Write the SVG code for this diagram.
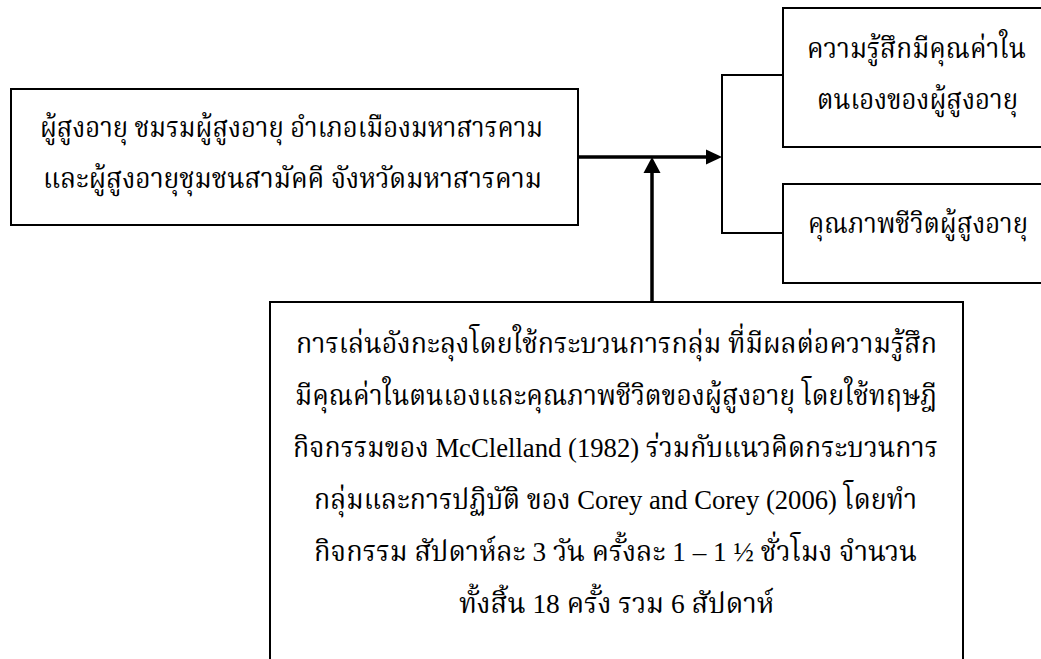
<svg xmlns="http://www.w3.org/2000/svg" width="1041" height="659" viewBox="0 0 1041 659">
<defs>
<style>
.box{fill:#fff;stroke:#000;stroke-width:2}
.t{font-family:"Liberation Serif","Noto Serif Thai","Noto Sans Thai",serif;font-size:28px;fill:#000}
.thick{stroke:#000;stroke-width:3.5;fill:none}
.thin{stroke:#000;stroke-width:2;fill:none}
</style>
</defs>
<rect width="1041" height="659" fill="#fff"/>
<g id="connectors">
<line class="thick" x1="579" y1="157" x2="708" y2="157"/>
<polygon points="706,149.5 722,157 706,164.5" fill="#000"/>
<line class="thick" x1="652" y1="302" x2="652" y2="171"/>
<polygon points="643.5,173 652,157 660.5,173" fill="#000"/>
<polyline class="thin" points="783,75 722,75 722,233 783,233"/>
</g>
<g id="node-elderly">
<rect class="box" x="11" y="89" width="567" height="136"/>
<text class="t" x="40" y="137" textLength="503" lengthAdjust="spacingAndGlyphs">ผู้สูงอายุ ชมรมผู้สูงอายุ อำเภอเมืองมหาสารคาม</text>
<text class="t" x="43" y="188" textLength="499" lengthAdjust="spacingAndGlyphs">และผู้สูงอายุชุมชนสามัคคี จังหวัดมหาสารคาม</text>
</g>
<g id="node-selfesteem">
<rect class="box" x="783" y="8" width="270" height="139"/>
<text class="t" x="807" y="58" textLength="219" lengthAdjust="spacingAndGlyphs">ความรู้สึกมีคุณค่าใน</text>
<text class="t" x="817" y="109" textLength="201" lengthAdjust="spacingAndGlyphs">ตนเองของผู้สูงอายุ</text>
</g>
<g id="node-quality">
<rect class="box" x="783" y="184" width="270" height="99"/>
<text class="t" x="808" y="233" textLength="220" lengthAdjust="spacingAndGlyphs">คุณภาพชีวิตผู้สูงอายุ</text>
</g>
<g id="node-intervention">
<rect class="box" x="270" y="302" width="693" height="380"/>
<text class="t" x="296" y="353" textLength="641" lengthAdjust="spacingAndGlyphs">การเล่นอังกะลุงโดยใช้กระบวนการกลุ่ม ที่มีผลต่อความรู้สึก</text>
<text class="t" x="295" y="405" textLength="642" lengthAdjust="spacingAndGlyphs">มีคุณค่าในตนเองและคุณภาพชีวิตของผู้สูงอายุ โดยใช้ทฤษฎี</text>
<text class="t" x="293" y="457" textLength="645" lengthAdjust="spacingAndGlyphs">กิจกรรมของ McClelland (1982) ร่วมกับแนวคิดกระบวนการ</text>
<text class="t" x="314" y="509" textLength="603" lengthAdjust="spacingAndGlyphs">กลุ่มและการปฏิบัติ ของ Corey and Corey (2006) โดยทำ</text>
<text class="t" x="314" y="561" textLength="603" lengthAdjust="spacingAndGlyphs">กิจกรรม สัปดาห์ละ 3 วัน ครั้งละ 1 – 1 ½ ชั่วโมง จำนวน</text>
<text class="t" x="459" y="613" textLength="315" lengthAdjust="spacingAndGlyphs">ทั้งสิ้น 18 ครั้ง รวม 6 สัปดาห์</text>
</g>
</svg>
